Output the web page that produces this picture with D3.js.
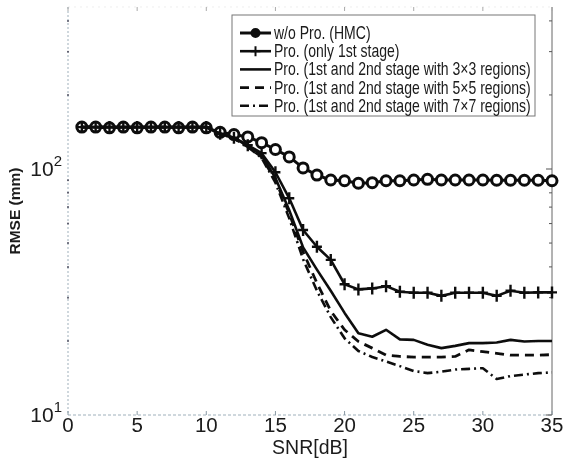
<!DOCTYPE html>
<html>
<head>
<meta charset="utf-8">
<script src="https://cdn.jsdelivr.net/npm/d3@7"></script>
<style>
  html, body { margin: 0; padding: 0; background: #fff; }
  svg { display: block; }
  text { font-family: "Liberation Sans", Arial, sans-serif; fill: #1a1a1a; }
</style>
</head>
<body>
<svg id="chart" width="565" height="462"></svg>
<script>
// SNR sweep (dB)
const snr = [1,2,3,4,5,6,7,8,9,10,11,12,13,14,15,16,17,18,19,20,21,22,23,24,25,26,27,28,29,30,31,32,33,34,35];

// RMSE (mm) for each method
const rmseHMC = [148,148,147,148,147,148,148,147,148,147,141,138,135,128,120,112,101,94.5,90.2,89.6,87.5,88,89.6,89.6,90.2,90.8,90.2,90.2,90.2,90.2,90,90,90,90,89.6];
const rmseStage1 = [148,148,148,148,148,148,148,148,148,148,139,134,125,116,97,76,56.5,48.3,42.7,34,32.4,32.7,33.4,31.7,31.4,31.4,30.5,31.4,31.4,31.4,30.5,32,31.4,31.5,31.5];
const rmse3x3 = [148,148,148,148,148,148,148,148,148,148,139,134,124,114,92,68,48,39,32,26,21.5,20.8,22.2,20.3,20.2,19.3,18.7,19.1,19.6,19.6,19.7,20.2,19.9,20,20];
const rmse5x5 = [148,148,148,148,148,148,148,148,148,148,139,133,123,112,90,66,46,34.4,26.5,22.2,19.9,18.7,17.5,17.3,17.2,17.2,17.2,17.3,18.4,18.1,17.8,17.5,17.5,17.5,17.6];
const rmse7x7 = [148,148,148,148,148,148,148,148,148,148,139,133,123,111,88,63,43,32,25,20.5,18.2,17.2,16.5,15.8,15.1,14.8,15.0,15.3,15.4,15.5,14.0,14.4,14.6,14.8,14.9];

const seriesNames = [
  "w/o Pro. (HMC)",
  "Pro. (only 1st stage)",
  "Pro. (1st and 2nd stage with 3\u00d73 regions)",
  "Pro. (1st and 2nd stage with 5\u00d75 regions)",
  "Pro. (1st and 2nd stage with 7\u00d77 regions)"
];
const seriesValues = [rmseHMC, rmseStage1, rmse3x3, rmse5x5, rmse7x7];

const xTicks = [0,5,10,15,20,25,30,35];
const yMajorTicks = [10, 100];
const yMinorTicks = [20,30,40,50,60,70,80,90,200,300,400];

// line style per series
const styles = [
  {dash: null, marker: "circle", width: 3},
  {dash: null, marker: "plus", width: 2.6},
  {dash: null, marker: null, width: 2.6},
  {dash: "9,6", marker: null, width: 2.8},
  {dash: "9,4,2,4", marker: null, width: 2.6}
];

const svg = d3.select("#chart");
const defs = svg.append("defs");
defs.append("filter").attr("id", "soft")
  .append("feGaussianBlur").attr("stdDeviation", 0.55);

const pL = 68, pR = 552, pT = 7, pB = 415;
const x = d3.scaleLinear().domain([0, 35]).range([pL, pR]);
const y = d3.scaleLog().domain([10, Math.pow(10, 1 + (pB - pT) / 246)]).range([pB, pT]);

const g = svg.append("g").attr("filter", "url(#soft)");

// frame
g.append("line").attr("x1", pL).attr("x2", pL).attr("y1", pT).attr("y2", pB)
  .attr("stroke", "#9fb0bb").attr("stroke-width", 1).attr("stroke-dasharray", "2,2");
g.append("line").attr("x1", pL).attr("x2", pR).attr("y1", pB).attr("y2", pB)
  .attr("stroke", "#9fb0bb").attr("stroke-width", 1).attr("stroke-dasharray", "3,2");
g.append("line").attr("x1", pR).attr("x2", pR).attr("y1", pT).attr("y2", pB)
  .attr("stroke", "#666").attr("stroke-width", 1);
g.append("line").attr("x1", pL).attr("x2", pR).attr("y1", pT).attr("y2", pT)
  .attr("stroke", "#e2e2e2").attr("stroke-width", 0.6).attr("stroke-dasharray", "2,4");

// x ticks (bottom and top)
xTicks.forEach(t => {
  g.append("line").attr("x1", x(t)).attr("x2", x(t)).attr("y1", pB).attr("y2", pB - 4)
    .attr("stroke", "#8a9aa5").attr("stroke-width", 1);
  g.append("line").attr("x1", x(t)).attr("x2", x(t)).attr("y1", pT).attr("y2", pT + 4)
    .attr("stroke", "#aaa").attr("stroke-width", 1);
});
// y minor ticks, left and right
yMinorTicks.filter(v => y(v) > pT + 2).forEach(v => {
  g.append("circle").attr("cx", pL).attr("cy", y(v)).attr("r", 1).attr("fill", "#556");
  g.append("line").attr("x1", pR).attr("x2", pR - 3).attr("y1", y(v)).attr("y2", y(v))
    .attr("stroke", "#555").attr("stroke-width", 1);
});
yMajorTicks.forEach(v => {
  g.append("line").attr("x1", pR).attr("x2", pR - 6).attr("y1", y(v)).attr("y2", y(v))
    .attr("stroke", "#555").attr("stroke-width", 1);
});

// x tick labels
g.selectAll("text.xt").data(xTicks).join("text").attr("class", "xt")
  .attr("x", d => x(d)).attr("y", 432).attr("text-anchor", "middle")
  .attr("font-size", 20.5).text(d => d);

// y tick labels as 10^n
yMajorTicks.forEach(v => {
  const t = g.append("text").attr("x", pL - 6).attr("y", y(v) + 7)
    .attr("text-anchor", "end").attr("font-size", 21);
  t.append("tspan").text("10");
  t.append("tspan").attr("font-size", 15).attr("dy", -10).text(Math.round(Math.log10(v)));
});

// axis titles
g.append("text").attr("x", x(17.5)).attr("y", 454).attr("text-anchor", "middle")
  .attr("font-size", 19.5).text("SNR[dB]");
g.append("text").attr("transform", `translate(20,${(pT + pB) / 2}) rotate(-90)`)
  .attr("text-anchor", "middle").attr("font-size", 15.5).attr("font-weight", "bold").text("RMSE (mm)");

// data lines
const line = d3.line().x((d, i) => x(snr[i])).y(d => y(d));
seriesValues.forEach((vals, k) => {
  const st = styles[k];
  g.append("path").attr("d", line(vals)).attr("fill", "none")
    .attr("stroke", "#111").attr("stroke-width", st.width)
    .attr("stroke-linejoin", "round")
    .attr("stroke-dasharray", st.dash);
  if (st.marker === "circle") {
    g.selectAll(null).data(vals).join("circle")
      .attr("cx", (d, i) => x(snr[i])).attr("cy", d => y(d)).attr("r", 5)
      .attr("fill", "#fff").attr("stroke", "#111").attr("stroke-width", 3);
  } else if (st.marker === "plus") {
    g.selectAll(null).data(vals).join("path")
      .attr("d", (d, i) => {
        const cx = x(snr[i]), cy = y(d);
        return `M${cx - 5},${cy}H${cx + 5}M${cx},${cy - 6}V${cy + 6}`;
      })
      .attr("stroke", "#111").attr("stroke-width", 2.4);
  }
});

// legend
const lg = g.append("g");
const lgX = 232, lgY = 15, lgW = 303, lgH = 101;
lg.append("rect").attr("x", lgX).attr("y", lgY).attr("width", lgW).attr("height", lgH)
  .attr("fill", "#fff").attr("stroke", "#777").attr("stroke-width", 1);
const rowY = i => 33 + i * 18.2;
const labelNodes = [];
seriesNames.forEach((name, k) => {
  const st = styles[k];
  const cy = rowY(k);
  lg.append("line").attr("x1", 240).attr("x2", 271).attr("y1", cy).attr("y2", cy)
    .attr("stroke", "#111").attr("stroke-width", st.width)
    .attr("stroke-dasharray", st.dash);
  if (st.marker === "circle") {
    lg.append("circle").attr("cx", 255.5).attr("cy", cy).attr("r", 4)
      .attr("fill", "#111").attr("stroke", "#111").attr("stroke-width", 2);
  } else if (st.marker === "plus") {
    lg.append("path").attr("d", `M250.5,${cy}H260.5M255.5,${cy - 5}V${cy + 5}`)
      .attr("stroke", "#111").attr("stroke-width", 2);
  }
  const holder = lg.append("g").attr("data-y", cy + 6);
  holder.append("text").attr("x", 0).attr("y", 0).attr("font-size", 18).text(name);
  labelNodes.push(holder);
});
// condensed legend lettering: one horizontal squeeze shared by all rows
const longest = d3.max(labelNodes, h => h.select("text").node().getComputedTextLength());
const squeeze = 257 / longest;
labelNodes.forEach(h => {
  h.attr("transform", `translate(274,${h.attr("data-y")}) scale(${squeeze},1)`);
});
</script>
</body>
</html>
